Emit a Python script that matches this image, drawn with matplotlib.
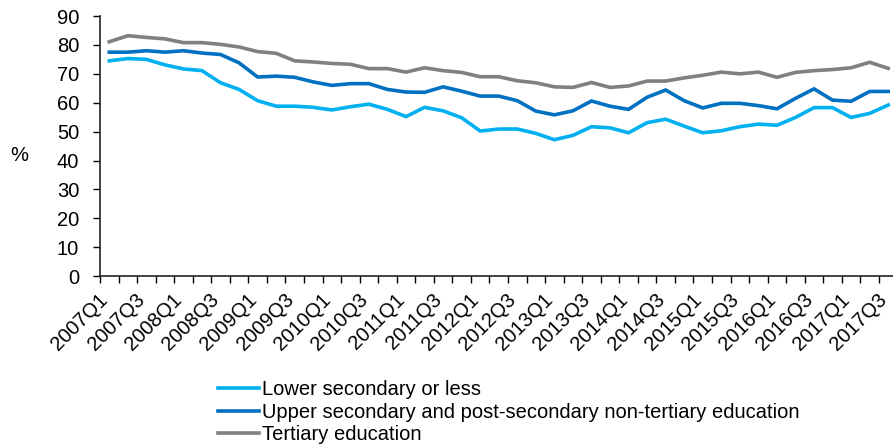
import matplotlib
matplotlib.use("Agg")
from matplotlib import pyplot as plt
from matplotlib import transforms as mtrans
import numpy as np

plt.rcParams['font.family'] = ['Liberation Sans', 'DejaVu Sans']

# Quarterly series, 2007Q1 .. 2017Q3 (%)
quarters = [f"{y}Q{q}" for y in range(2007, 2018) for q in (1, 2, 3, 4)][:43]

lower_secondary = [74.5, 75.3, 75.0, 73.1, 71.7, 71.1, 66.9, 64.6, 60.7, 58.8,
                   58.8, 58.4, 57.5, 58.6, 59.5, 57.7, 55.2, 58.4, 57.2, 54.8,
                   50.2, 50.9, 50.9, 49.4, 47.2, 48.7, 51.7, 51.3, 49.6, 53.1,
                   54.3, 51.9, 49.6, 50.3, 51.7, 52.6, 52.2, 54.9, 58.3, 58.3,
                   54.9, 56.3, 59.2]
upper_secondary = [77.5, 77.5, 78.0, 77.5, 78.0, 77.2, 76.7, 73.8, 68.9, 69.2,
                   68.8, 67.2, 66.0, 66.6, 66.6, 64.6, 63.7, 63.6, 65.5, 64.0,
                   62.3, 62.3, 60.7, 57.1, 55.8, 57.2, 60.6, 58.8, 57.7, 61.9,
                   64.4, 60.7, 58.2, 59.8, 59.8, 59.0, 57.9, 61.5, 64.8, 60.9,
                   60.5, 63.9, 63.9]
tertiary = [81.1, 83.2, 82.6, 82.1, 80.8, 80.8, 80.2, 79.3, 77.7, 77.1,
            74.5, 74.1, 73.6, 73.3, 71.8, 71.8, 70.6, 72.1, 71.1, 70.5,
            69.0, 69.0, 67.6, 66.9, 65.5, 65.3, 67.0, 65.3, 65.8, 67.5,
            67.5, 68.6, 69.5, 70.6, 70.0, 70.6, 68.8, 70.5, 71.1, 71.5,
            72.1, 74.0, 71.9]

series = [
    ("Lower secondary or less", lower_secondary, '#00b0f0'),
    ("Upper secondary and post-secondary non-tertiary education", upper_secondary, '#0070c0'),
    ("Tertiary education", tertiary, '#808080'),
]

FS = 14.5

fig = plt.figure(figsize=(8.93, 4.46), dpi=100)
ax = fig.add_axes([0.112, 0.381, 0.893, 0.583])

x = np.arange(len(quarters))
for label, values, color in series:
    ax.plot(x, values, color=color, linewidth=2.6, label=label,
            solid_joinstyle='miter', clip_on=False)

ax.set_xlim(-0.5, len(quarters) - 0.5)
ax.set_ylim(0, 90)
ax.set_yticks(np.arange(0, 91, 10))

# category labels every second quarter, tick marks on category boundaries
ax.set_xticks(x[::2])
ax.set_xticklabels(quarters[::2], rotation=45, ha='right', va='center',
                   rotation_mode='anchor')
ax.set_xticks(np.arange(-0.5, len(quarters)), minor=True)
ax.tick_params(axis='x', which='major', length=0, pad=15, labelsize=FS)
ax.tick_params(axis='x', which='minor', length=5, width=1, direction='out')
ax.tick_params(axis='y', length=5, width=1, labelsize=FS, pad=10)

# nudge rotated labels a little to the left
shift = mtrans.ScaledTranslation(-3 / 72, 0, fig.dpi_scale_trans)
for lbl in ax.get_xticklabels():
    lbl.set_transform(lbl.get_transform() + shift)

for side in ('top', 'right'):
    ax.spines[side].set_visible(False)
for side in ('left', 'bottom'):
    ax.spines[side].set_linewidth(1.2)
    ax.spines[side].set_color('#222222')

fig.text(0.011, 0.652, "%", fontsize=FS, ha='left', va='center')

fig.legend(loc='upper left', bbox_to_anchor=(0.244, 0.148), frameon=False,
           fontsize=FS, handlelength=2.05, handletextpad=0.15,
           labelspacing=0.18, borderpad=0, borderaxespad=0)

fig.savefig("out.png", dpi=100)
